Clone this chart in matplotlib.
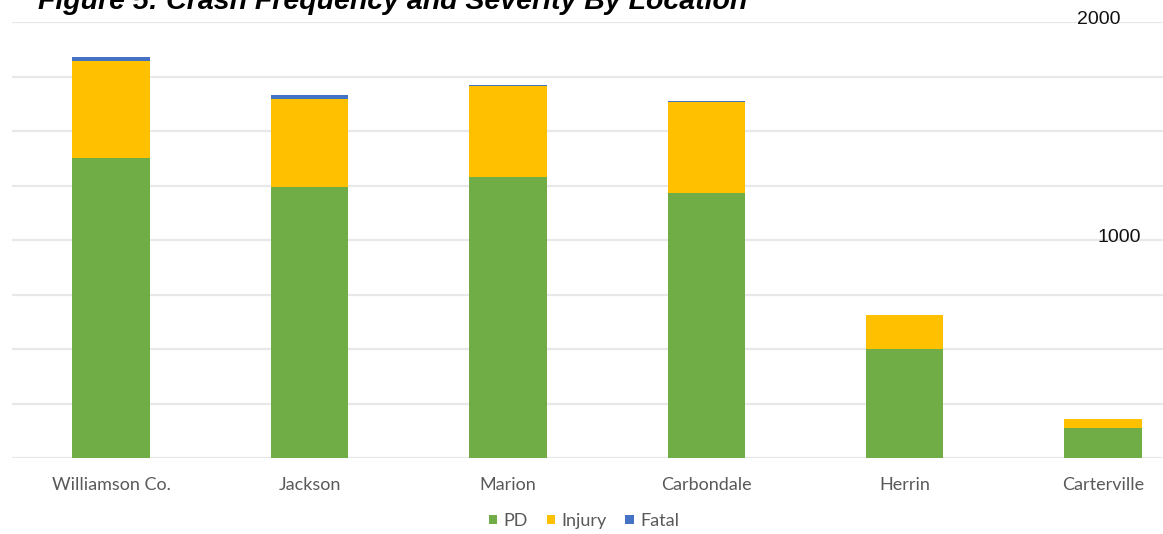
import matplotlib
matplotlib.use("Agg")
import matplotlib.pyplot as plt
import numpy as np

categories = ["Williamson Co.", "Jackson", "Marion", "Carbondale", "Herrin", "Carterville"]
pd_vals = [1376, 1243, 1289, 1216, 500, 138]
injury_vals = [445, 404, 417, 417, 156, 41]
fatal_vals = [18, 18, 5, 3, 2, 1]
series_names = ["PD", "Injury", "Fatal"]
colors = ["#70AD47", "#FFC000", "#4472C4"]
title = "Figure 5: Crash Frequency and Severity By Location"
ytick_vals = [1000, 2000]

W, H = 1163, 534
fig = plt.figure(figsize=(W / 100, H / 100), dpi=100)
left_px, right_px, bottom_px, top_px = 12, 1163, 458, 22
ax = fig.add_axes([left_px / W, 1 - bottom_px / H, (right_px - left_px) / W, (bottom_px - top_px) / H])

x = np.arange(len(categories))
pdv = np.array(pd_vals)
inj = np.array(injury_vals)
fat = np.array(fatal_vals)
bw = 0.39
ax.bar(x, pdv, bw, color=colors[0], label=series_names[0], zorder=3)
ax.bar(x, inj, bw, bottom=pdv, color=colors[1], label=series_names[1], zorder=3)
ax.bar(x, fat, bw, bottom=pdv + inj, color=colors[2], label=series_names[2], zorder=3)

ax.set_xlim(-0.5, 5.303)
ax.set_ylim(0, 2000)
ax.set_yticks(np.arange(0, 2001, 250))
ax.yaxis.grid(True, color="#e8e8e8", linewidth=1.6, zorder=0)
ax.set_axisbelow(True)
ax.tick_params(axis="y", left=False, labelleft=False)
ax.tick_params(axis="x", bottom=False, pad=10)
ax.set_xticks(x)
ax.set_xticklabels(categories, fontfamily="Lato", fontsize=13, color="#595959")
for s in ax.spines.values():
    s.set_visible(False)

# value labels at right side
xpos = {2000: 1120, 1000: 1141}
for v in ytick_vals:
    ax.annotate(str(v), xy=((xpos[v] - left_px) / (right_px - left_px), v),
                xycoords=("axes fraction", "data"), xytext=(0, 3), textcoords="offset pixels",
                ha="right", va="center", fontfamily="Liberation Sans", fontsize=14, color="#111111")

fig.text(38 / W, 1 - 9 / H, title, fontfamily="Liberation Sans", fontweight="bold",
         fontstyle="italic", fontsize=20.5, color="#000000", ha="left", va="baseline")

leg = fig.legend(loc="center", bbox_to_anchor=(584 / W, 1 - 521 / H), ncol=3, frameon=False,
                 prop={"family": "Lato", "size": 13}, handlelength=0.45, handleheight=0.45,
                 handletextpad=0.35, columnspacing=1.05)
for t in leg.get_texts():
    t.set_color("#595959")

fig.savefig("out.png", dpi=100)
